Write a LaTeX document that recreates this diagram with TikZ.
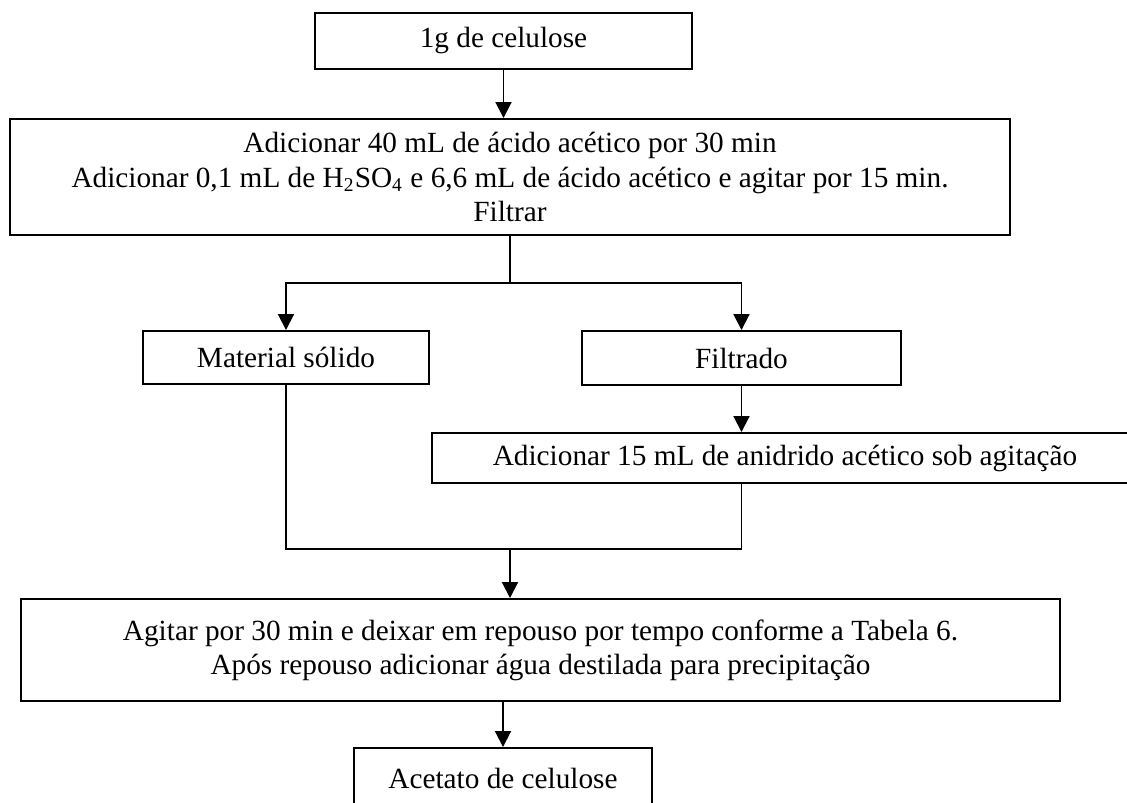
\documentclass[tikz,border=0pt]{standalone}
\usepackage{fontspec}
\setmainfont{Liberation Serif}
\usetikzlibrary{arrows.meta}
\newlength\pu
\setlength\pu{0.41pt}
\begin{document}
\begin{tikzpicture}[x=0.41pt,y=-0.41pt,
  box/.style={draw,line width=0.8pt,inner sep=0pt,align=center,
    font=\fontsize{12}{14}\selectfont},
  link/.style={line width=0.8pt},
  arr/.style={line width=0.8pt,-{Triangle[width=6.5pt,length=6.5pt]}}]
\clip (0,0) rectangle (1127,803);
\fill[white] (0,0) rectangle (1127,803);
\node[box,minimum width=377\pu,minimum height=56\pu] (n1) at (503.5,41) {1g de celulose};
\node[box,minimum width=1000\pu,minimum height=116\pu] (n2) at (510,177)
  {Adicionar 40 mL de ácido acético por 30 min\\
   Adicionar 0,1 mL de H\textsubscript{2}SO\textsubscript{4} e 6,6 mL de ácido acético e agitar por 15 min.\\
   Filtrar};
\node[box,minimum width=286\pu,minimum height=53\pu] (n3) at (286,357.5) {Material sólido};
\node[box,minimum width=319\pu,minimum height=54\pu] (n4) at (741.5,358) {Filtrado};
\node[box,minimum width=706\pu,minimum height=50\pu] (n5) at (785,458) {Adicionar 15 mL de anidrido acético sob agitação};
\node[box,minimum width=1039\pu,minimum height=102\pu] (n6) at (540.5,650)
  {Agitar por 30 min e deixar em repouso por tempo conforme a Tabela 6.\\
   Após repouso adicionar água destilada para precipitação};
\node[box,minimum width=298\pu,minimum height=60\pu] (n7) at (503,778) {Acetato de celulose};
\coordinate (sp) at (510,283);
\coordinate (jn) at (510,549);
\draw[arr] (n1.south) -- (n1.south |- n2.north);
\draw[link] (n2.south) -- (sp);
\draw[arr] (sp) -| (n3.north);
\draw[arr] (sp) -| (n4.north);
\draw[arr] (n4.south) -- (n4.south |- n5.north);
\draw[link] (n3.south) |- (jn);
\draw[link] (n4.south |- n5.south) |- (jn);
\draw[arr] (jn) -- (jn |- n6.north);
\draw[arr] (n7.north |- n6.south) -- (n7.north);
\end{tikzpicture}
\end{document}
